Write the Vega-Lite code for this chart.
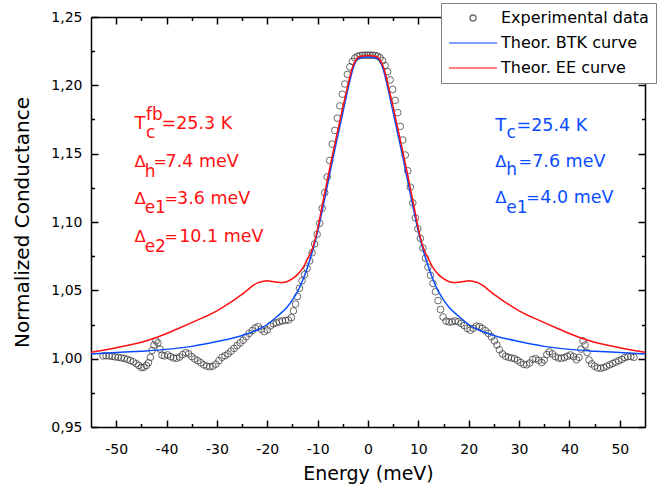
{
  "$schema": "https://vega.github.io/schema/vega-lite/v6.json",
  "width": 554,
  "height": 410,
  "autosize": {"type": "none"},
  "padding": {"left": 91, "top": 17, "right": 20, "bottom": 66},
  "background": "white",
  "config": {
    "view": {"stroke": null},
    "axis": {
      "grid": false,
      "domainColor": "black",
      "domainWidth": 1.5,
      "tickColor": "black",
      "tickWidth": 1.5,
      "labelFont": "DejaVu Sans",
      "labelFontSize": 14,
      "labelColor": "black",
      "titleFont": "DejaVu Sans",
      "titleFontWeight": "normal",
      "titleColor": "black"
    },
    "legend": {
      "strokeColor": "#808080",
      "fillColor": "white",
      "padding": 7,
      "labelFont": "DejaVu Sans",
      "labelFontSize": 16,
      "labelColor": "black",
      "labelOffset": 20,
      "labelLimit": 400,
      "rowPadding": 9,
      "symbolSize": 36,
      "symbolOffset": 17,
      "symbolStrokeWidth": 1.3
    }
  },
  "datasets": {
    "exp": [
      {"series":"Experimental data","E":-52.6,"G":1.0020},{"series":"Experimental data","E":-52.0,"G":1.0021},{"series":"Experimental data","E":-51.4,"G":1.0020},{"series":"Experimental data","E":-50.8,"G":1.0017},{"series":"Experimental data","E":-50.2,"G":1.0013},{"series":"Experimental data","E":-49.6,"G":1.0010},{"series":"Experimental data","E":-49.0,"G":1.0006},{"series":"Experimental data","E":-48.4,"G":1.0002},{"series":"Experimental data","E":-47.8,"G":0.9995},{"series":"Experimental data","E":-47.2,"G":0.9987},{"series":"Experimental data","E":-46.6,"G":0.9977},{"series":"Experimental data","E":-46.0,"G":0.9963},{"series":"Experimental data","E":-45.5,"G":0.9950},{"series":"Experimental data","E":-45.0,"G":0.9935},{"series":"Experimental data","E":-44.5,"G":0.9937},{"series":"Experimental data","E":-44.0,"G":0.9950},{"series":"Experimental data","E":-43.6,"G":0.9970},{"series":"Experimental data","E":-43.2,"G":1.0010},{"series":"Experimental data","E":-42.9,"G":1.0060},{"series":"Experimental data","E":-42.5,"G":1.0100},{"series":"Experimental data","E":-42.1,"G":1.0130},{"series":"Experimental data","E":-41.7,"G":1.0115},{"series":"Experimental data","E":-41.3,"G":1.0070},{"series":"Experimental data","E":-40.9,"G":1.0025},{"series":"Experimental data","E":-40.4,"G":1.0020},{"series":"Experimental data","E":-39.8,"G":1.0028},{"series":"Experimental data","E":-39.2,"G":1.0015},{"series":"Experimental data","E":-38.6,"G":1.0005},{"series":"Experimental data","E":-38.0,"G":1.0003},{"series":"Experimental data","E":-37.4,"G":1.0012},{"series":"Experimental data","E":-36.8,"G":1.0030},{"series":"Experimental data","E":-36.2,"G":1.0044},{"series":"Experimental data","E":-35.6,"G":1.0035},{"series":"Experimental data","E":-35.0,"G":1.0015},{"series":"Experimental data","E":-34.4,"G":0.9998},{"series":"Experimental data","E":-33.8,"G":0.9985},{"series":"Experimental data","E":-33.2,"G":0.9970},{"series":"Experimental data","E":-32.6,"G":0.9955},{"series":"Experimental data","E":-32.0,"G":0.9945},{"series":"Experimental data","E":-31.4,"G":0.9941},{"series":"Experimental data","E":-30.8,"G":0.9945},{"series":"Experimental data","E":-30.2,"G":0.9960},{"series":"Experimental data","E":-29.6,"G":0.9985},{"series":"Experimental data","E":-29.0,"G":1.0010},{"series":"Experimental data","E":-28.4,"G":1.0022},{"series":"Experimental data","E":-27.8,"G":1.0035},{"series":"Experimental data","E":-27.2,"G":1.0055},{"series":"Experimental data","E":-26.6,"G":1.0075},{"series":"Experimental data","E":-26.0,"G":1.0095},{"series":"Experimental data","E":-25.4,"G":1.0115},{"series":"Experimental data","E":-24.8,"G":1.0135},{"series":"Experimental data","E":-24.2,"G":1.0160},{"series":"Experimental data","E":-23.6,"G":1.0185},{"series":"Experimental data","E":-23.0,"G":1.0205},{"series":"Experimental data","E":-22.4,"G":1.0225},{"series":"Experimental data","E":-21.8,"G":1.0234},{"series":"Experimental data","E":-21.2,"G":1.0215},{"series":"Experimental data","E":-20.6,"G":1.0198},{"series":"Experimental data","E":-20.0,"G":1.0210},{"series":"Experimental data","E":-19.4,"G":1.0240},{"series":"Experimental data","E":-18.8,"G":1.0255},{"series":"Experimental data","E":-18.2,"G":1.0262},{"series":"Experimental data","E":-17.6,"G":1.0270},{"series":"Experimental data","E":-17.0,"G":1.0277},{"series":"Experimental data","E":-16.4,"G":1.0280},{"series":"Experimental data","E":-15.8,"G":1.0283},{"series":"Experimental data","E":-15.2,"G":1.0300},{"series":"Experimental data","E":-14.8,"G":1.0350},{"series":"Experimental data","E":-14.4,"G":1.0400},{"series":"Experimental data","E":-14.0,"G":1.0455},{"series":"Experimental data","E":-13.6,"G":1.0515},{"series":"Experimental data","E":-13.1,"G":1.0570},{"series":"Experimental data","E":-12.6,"G":1.0615},{"series":"Experimental data","E":-12.1,"G":1.0660},{"series":"Experimental data","E":-11.6,"G":1.0715},{"series":"Experimental data","E":-11.1,"G":1.0775},{"series":"Experimental data","E":-10.6,"G":1.0840},{"series":"Experimental data","E":-10.1,"G":1.0910},{"series":"Experimental data","E":-9.6,"G":1.0990},{"series":"Experimental data","E":-9.1,"G":1.1100},{"series":"Experimental data","E":-8.6,"G":1.1215},{"series":"Experimental data","E":-8.1,"G":1.1330},{"series":"Experimental data","E":-7.6,"G":1.1450},{"series":"Experimental data","E":-7.1,"G":1.1570},{"series":"Experimental data","E":-6.6,"G":1.1670},{"series":"Experimental data","E":-6.1,"G":1.1760},{"series":"Experimental data","E":-5.6,"G":1.1850},{"series":"Experimental data","E":-5.1,"G":1.1935},{"series":"Experimental data","E":-4.6,"G":1.2010},{"series":"Experimental data","E":-4.1,"G":1.2080},{"series":"Experimental data","E":-3.6,"G":1.2135},{"series":"Experimental data","E":-3.1,"G":1.2175},{"series":"Experimental data","E":-2.6,"G":1.2200},{"series":"Experimental data","E":-2.1,"G":1.2212},{"series":"Experimental data","E":-1.6,"G":1.2218},{"series":"Experimental data","E":-1.1,"G":1.2220},{"series":"Experimental data","E":-0.6,"G":1.2221},{"series":"Experimental data","E":-0.1,"G":1.2221},
      {"series":"Experimental data","E":0.4,"G":1.2221},{"series":"Experimental data","E":0.9,"G":1.2220},{"series":"Experimental data","E":1.4,"G":1.2219},{"series":"Experimental data","E":1.9,"G":1.2214},{"series":"Experimental data","E":2.4,"G":1.2202},{"series":"Experimental data","E":2.9,"G":1.2180},{"series":"Experimental data","E":3.4,"G":1.2145},{"series":"Experimental data","E":3.9,"G":1.2100},{"series":"Experimental data","E":4.4,"G":1.2040},{"series":"Experimental data","E":4.9,"G":1.1970},{"series":"Experimental data","E":5.4,"G":1.1890},{"series":"Experimental data","E":5.9,"G":1.1800},{"series":"Experimental data","E":6.4,"G":1.1700},{"series":"Experimental data","E":6.9,"G":1.1600},{"series":"Experimental data","E":7.4,"G":1.1490},{"series":"Experimental data","E":7.9,"G":1.1375},{"series":"Experimental data","E":8.4,"G":1.1255},{"series":"Experimental data","E":8.9,"G":1.1140},{"series":"Experimental data","E":9.4,"G":1.1030},{"series":"Experimental data","E":9.9,"G":1.0950},{"series":"Experimental data","E":10.4,"G":1.0880},{"series":"Experimental data","E":10.9,"G":1.0810},{"series":"Experimental data","E":11.4,"G":1.0735},{"series":"Experimental data","E":11.9,"G":1.0670},{"series":"Experimental data","E":12.4,"G":1.0610},{"series":"Experimental data","E":12.9,"G":1.0550},{"series":"Experimental data","E":13.4,"G":1.0490},{"series":"Experimental data","E":13.9,"G":1.0425},{"series":"Experimental data","E":14.4,"G":1.0360},{"series":"Experimental data","E":14.9,"G":1.0305},{"series":"Experimental data","E":15.5,"G":1.0275},{"series":"Experimental data","E":16.1,"G":1.0268},{"series":"Experimental data","E":16.7,"G":1.0270},{"series":"Experimental data","E":17.3,"G":1.0276},{"series":"Experimental data","E":17.9,"G":1.0270},{"series":"Experimental data","E":18.5,"G":1.0258},{"series":"Experimental data","E":19.1,"G":1.0242},{"series":"Experimental data","E":19.7,"G":1.0222},{"series":"Experimental data","E":20.3,"G":1.0208},{"series":"Experimental data","E":20.9,"G":1.0222},{"series":"Experimental data","E":21.5,"G":1.0238},{"series":"Experimental data","E":22.1,"G":1.0235},{"series":"Experimental data","E":22.7,"G":1.0222},{"series":"Experimental data","E":23.3,"G":1.0205},{"series":"Experimental data","E":23.9,"G":1.0185},{"series":"Experimental data","E":24.5,"G":1.0160},{"series":"Experimental data","E":25.1,"G":1.0130},{"series":"Experimental data","E":25.6,"G":1.0100},{"series":"Experimental data","E":26.1,"G":1.0065},{"series":"Experimental data","E":26.7,"G":1.0035},{"series":"Experimental data","E":27.3,"G":1.0018},{"series":"Experimental data","E":27.9,"G":1.0010},{"series":"Experimental data","E":28.5,"G":1.0005},{"series":"Experimental data","E":29.1,"G":1.0000},{"series":"Experimental data","E":29.7,"G":0.9988},{"series":"Experimental data","E":30.3,"G":0.9972},{"series":"Experimental data","E":30.9,"G":0.9958},{"series":"Experimental data","E":31.5,"G":0.9955},{"series":"Experimental data","E":32.1,"G":0.9968},{"series":"Experimental data","E":32.7,"G":0.9995},{"series":"Experimental data","E":33.3,"G":1.0000},{"series":"Experimental data","E":33.9,"G":0.9988},{"series":"Experimental data","E":34.5,"G":0.9972},{"series":"Experimental data","E":35.0,"G":0.9990},{"series":"Experimental data","E":35.5,"G":1.0030},{"series":"Experimental data","E":36.0,"G":1.0050},{"series":"Experimental data","E":36.6,"G":1.0035},{"series":"Experimental data","E":37.2,"G":1.0015},{"series":"Experimental data","E":37.8,"G":1.0005},{"series":"Experimental data","E":38.4,"G":1.0003},{"series":"Experimental data","E":39.0,"G":1.0008},{"series":"Experimental data","E":39.6,"G":1.0018},{"series":"Experimental data","E":40.2,"G":1.0027},{"series":"Experimental data","E":40.8,"G":1.0015},{"series":"Experimental data","E":41.4,"G":0.9992},{"series":"Experimental data","E":41.9,"G":1.0010},{"series":"Experimental data","E":42.3,"G":1.0070},{"series":"Experimental data","E":42.7,"G":1.0130},{"series":"Experimental data","E":43.1,"G":1.0100},{"series":"Experimental data","E":43.5,"G":1.0045},{"series":"Experimental data","E":43.9,"G":0.9990},{"series":"Experimental data","E":44.4,"G":0.9962},{"series":"Experimental data","E":45.0,"G":0.9945},{"series":"Experimental data","E":45.6,"G":0.9932},{"series":"Experimental data","E":46.2,"G":0.9930},{"series":"Experimental data","E":46.8,"G":0.9935},{"series":"Experimental data","E":47.4,"G":0.9945},{"series":"Experimental data","E":48.0,"G":0.9955},{"series":"Experimental data","E":48.6,"G":0.9965},{"series":"Experimental data","E":49.2,"G":0.9975},{"series":"Experimental data","E":49.8,"G":0.9985},{"series":"Experimental data","E":50.4,"G":0.9995},{"series":"Experimental data","E":51.0,"G":1.0008},{"series":"Experimental data","E":51.6,"G":1.0015},{"series":"Experimental data","E":52.2,"G":1.0015},{"series":"Experimental data","E":52.8,"G":1.0010}
    ],
    "btk": [
      {"series":"Theor. BTK curve","E":-55,"G":1.0035},{"series":"Theor. BTK curve","E":-50,"G":1.0045},{"series":"Theor. BTK curve","E":-45,"G":1.0055},{"series":"Theor. BTK curve","E":-40,"G":1.0068},{"series":"Theor. BTK curve","E":-35,"G":1.009},{"series":"Theor. BTK curve","E":-30,"G":1.0125},{"series":"Theor. BTK curve","E":-25,"G":1.017},{"series":"Theor. BTK curve","E":-22,"G":1.021},{"series":"Theor. BTK curve","E":-20,"G":1.025},{"series":"Theor. BTK curve","E":-18,"G":1.031},{"series":"Theor. BTK curve","E":-16,"G":1.038},{"series":"Theor. BTK curve","E":-15,"G":1.043},{"series":"Theor. BTK curve","E":-14,"G":1.049},{"series":"Theor. BTK curve","E":-13,"G":1.057},{"series":"Theor. BTK curve","E":-12,"G":1.067},{"series":"Theor. BTK curve","E":-11,"G":1.079},{"series":"Theor. BTK curve","E":-10,"G":1.093},{"series":"Theor. BTK curve","E":-9,"G":1.110},{"series":"Theor. BTK curve","E":-8,"G":1.128},{"series":"Theor. BTK curve","E":-7,"G":1.146},{"series":"Theor. BTK curve","E":-6,"G":1.163},{"series":"Theor. BTK curve","E":-5,"G":1.180},{"series":"Theor. BTK curve","E":-4,"G":1.197},{"series":"Theor. BTK curve","E":-3.5,"G":1.205},{"series":"Theor. BTK curve","E":-3,"G":1.212},{"series":"Theor. BTK curve","E":-2.5,"G":1.217},{"series":"Theor. BTK curve","E":-2,"G":1.2195},{"series":"Theor. BTK curve","E":-1,"G":1.2205},{"series":"Theor. BTK curve","E":0,"G":1.2207},{"series":"Theor. BTK curve","E":1,"G":1.2205},{"series":"Theor. BTK curve","E":2,"G":1.2195},{"series":"Theor. BTK curve","E":2.5,"G":1.217},{"series":"Theor. BTK curve","E":3,"G":1.212},{"series":"Theor. BTK curve","E":3.5,"G":1.205},{"series":"Theor. BTK curve","E":4,"G":1.197},{"series":"Theor. BTK curve","E":5,"G":1.180},{"series":"Theor. BTK curve","E":6,"G":1.163},{"series":"Theor. BTK curve","E":7,"G":1.146},{"series":"Theor. BTK curve","E":8,"G":1.128},{"series":"Theor. BTK curve","E":9,"G":1.110},{"series":"Theor. BTK curve","E":10,"G":1.093},{"series":"Theor. BTK curve","E":11,"G":1.079},{"series":"Theor. BTK curve","E":12,"G":1.067},{"series":"Theor. BTK curve","E":13,"G":1.057},{"series":"Theor. BTK curve","E":14,"G":1.049},{"series":"Theor. BTK curve","E":15,"G":1.043},{"series":"Theor. BTK curve","E":16,"G":1.038},{"series":"Theor. BTK curve","E":18,"G":1.031},{"series":"Theor. BTK curve","E":20,"G":1.025},{"series":"Theor. BTK curve","E":22,"G":1.021},{"series":"Theor. BTK curve","E":25,"G":1.017},{"series":"Theor. BTK curve","E":30,"G":1.0125},{"series":"Theor. BTK curve","E":35,"G":1.009},{"series":"Theor. BTK curve","E":40,"G":1.0068},{"series":"Theor. BTK curve","E":45,"G":1.0055},{"series":"Theor. BTK curve","E":50,"G":1.0045},{"series":"Theor. BTK curve","E":55,"G":1.0035}
    ],
    "ee": [
      {"series":"Theor. EE curve","E":-55,"G":1.0047},{"series":"Theor. EE curve","E":-50,"G":1.008},{"series":"Theor. EE curve","E":-45,"G":1.012},{"series":"Theor. EE curve","E":-42,"G":1.0155},{"series":"Theor. EE curve","E":-38,"G":1.0215},{"series":"Theor. EE curve","E":-34,"G":1.028},{"series":"Theor. EE curve","E":-30,"G":1.035},{"series":"Theor. EE curve","E":-28,"G":1.0395},{"series":"Theor. EE curve","E":-26,"G":1.0445},{"series":"Theor. EE curve","E":-24,"G":1.050},{"series":"Theor. EE curve","E":-23,"G":1.053},{"series":"Theor. EE curve","E":-22,"G":1.0553},{"series":"Theor. EE curve","E":-21,"G":1.0565},{"series":"Theor. EE curve","E":-20,"G":1.057},{"series":"Theor. EE curve","E":-19,"G":1.0565},{"series":"Theor. EE curve","E":-18,"G":1.056},{"series":"Theor. EE curve","E":-17,"G":1.0557},{"series":"Theor. EE curve","E":-16,"G":1.0565},{"series":"Theor. EE curve","E":-15,"G":1.0585},{"series":"Theor. EE curve","E":-14,"G":1.0615},{"series":"Theor. EE curve","E":-13,"G":1.066},{"series":"Theor. EE curve","E":-12,"G":1.073},{"series":"Theor. EE curve","E":-11,"G":1.081},{"series":"Theor. EE curve","E":-10,"G":1.095},{"series":"Theor. EE curve","E":-9,"G":1.114},{"series":"Theor. EE curve","E":-8,"G":1.132},{"series":"Theor. EE curve","E":-7,"G":1.150},{"series":"Theor. EE curve","E":-6,"G":1.167},{"series":"Theor. EE curve","E":-5,"G":1.184},{"series":"Theor. EE curve","E":-4,"G":1.200},{"series":"Theor. EE curve","E":-3.5,"G":1.208},{"series":"Theor. EE curve","E":-3,"G":1.214},{"series":"Theor. EE curve","E":-2.5,"G":1.218},{"series":"Theor. EE curve","E":-2,"G":1.2205},{"series":"Theor. EE curve","E":-1,"G":1.2215},{"series":"Theor. EE curve","E":0,"G":1.2218},{"series":"Theor. EE curve","E":1,"G":1.2215},{"series":"Theor. EE curve","E":2,"G":1.2205},{"series":"Theor. EE curve","E":2.5,"G":1.218},{"series":"Theor. EE curve","E":3,"G":1.214},{"series":"Theor. EE curve","E":3.5,"G":1.208},{"series":"Theor. EE curve","E":4,"G":1.200},{"series":"Theor. EE curve","E":5,"G":1.184},{"series":"Theor. EE curve","E":6,"G":1.167},{"series":"Theor. EE curve","E":7,"G":1.150},{"series":"Theor. EE curve","E":8,"G":1.132},{"series":"Theor. EE curve","E":9,"G":1.114},{"series":"Theor. EE curve","E":10,"G":1.095},{"series":"Theor. EE curve","E":11,"G":1.081},{"series":"Theor. EE curve","E":12,"G":1.073},{"series":"Theor. EE curve","E":13,"G":1.066},{"series":"Theor. EE curve","E":14,"G":1.0615},{"series":"Theor. EE curve","E":15,"G":1.0585},{"series":"Theor. EE curve","E":16,"G":1.0565},{"series":"Theor. EE curve","E":17,"G":1.0557},{"series":"Theor. EE curve","E":18,"G":1.056},{"series":"Theor. EE curve","E":19,"G":1.0565},{"series":"Theor. EE curve","E":20,"G":1.057},{"series":"Theor. EE curve","E":21,"G":1.0565},{"series":"Theor. EE curve","E":22,"G":1.0553},{"series":"Theor. EE curve","E":23,"G":1.053},{"series":"Theor. EE curve","E":24,"G":1.050},{"series":"Theor. EE curve","E":26,"G":1.0445},{"series":"Theor. EE curve","E":28,"G":1.0395},{"series":"Theor. EE curve","E":30,"G":1.035},{"series":"Theor. EE curve","E":34,"G":1.028},{"series":"Theor. EE curve","E":38,"G":1.0215},{"series":"Theor. EE curve","E":42,"G":1.0155},{"series":"Theor. EE curve","E":45,"G":1.012},{"series":"Theor. EE curve","E":50,"G":1.008},{"series":"Theor. EE curve","E":55,"G":1.0047}
    ],
    "notes": [
      {"g":"EE","p":"T","x":-46.36,"y":1.1678,"t":"T"},
      {"g":"EE","p":"sub","x":-44.1,"y":1.1615,"t":"c"},
      {"g":"EE","p":"sub","x":-44.1,"y":1.1746,"t":"fb"},
      {"g":"EE","p":"main","x":-41.0,"y":1.1678,"t":"=25.3 K"},
      {"g":"EE","p":"delta","x":-46.36,"y":1.1405,"t":"Δ"},
      {"g":"EE","p":"sub","x":-44.35,"y":1.1327,"t":"h"},
      {"g":"EE","p":"eq","x":-42.6,"y":1.1405,"t":"="},
      {"g":"EE","p":"main","x":-40.19,"y":1.1405,"t":"7.4 meV"},
      {"g":"EE","p":"delta","x":-46.36,"y":1.1132,"t":"Δ"},
      {"g":"EE","p":"sub","x":-44.35,"y":1.1064,"t":"e1"},
      {"g":"EE","p":"eq","x":-40.4,"y":1.1132,"t":"="},
      {"g":"EE","p":"main","x":-37.9,"y":1.1132,"t":"3.6 meV"},
      {"g":"EE","p":"delta","x":-46.36,"y":1.0856,"t":"Δ"},
      {"g":"EE","p":"sub","x":-44.35,"y":1.0783,"t":"e2"},
      {"g":"EE","p":"eq","x":-40.4,"y":1.0856,"t":"="},
      {"g":"EE","p":"main","x":-37.5,"y":1.0856,"t":"10.1 meV"},
      {"g":"BTK","p":"T","x":25.27,"y":1.1668,"t":"T"},
      {"g":"BTK","p":"sub","x":27.5,"y":1.1612,"t":"c"},
      {"g":"BTK","p":"main","x":29.5,"y":1.1668,"t":"=25.4 K"},
      {"g":"BTK","p":"delta","x":25.27,"y":1.1405,"t":"Δ"},
      {"g":"BTK","p":"sub","x":27.46,"y":1.1344,"t":"h"},
      {"g":"BTK","p":"eq","x":29.9,"y":1.1405,"t":"="},
      {"g":"BTK","p":"main","x":32.6,"y":1.1405,"t":"7.6 meV"},
      {"g":"BTK","p":"delta","x":25.27,"y":1.1137,"t":"Δ"},
      {"g":"BTK","p":"sub","x":27.46,"y":1.1064,"t":"e1"},
      {"g":"BTK","p":"eq","x":31.4,"y":1.1137,"t":"="},
      {"g":"BTK","p":"main","x":34.2,"y":1.1137,"t":"4.0 meV"}
    ]
  },
  "layer": [
    {
      "data": {"name": "exp"},
      "mark": {"type": "point", "filled": false, "size": 44, "strokeWidth": 1},
      "encoding": {
        "x": {
          "field": "E", "type": "quantitative",
          "scale": {"domain": [-55, 55], "nice": false, "zero": false},
          "axis": {
            "orient": "bottom",
            "values": [-50, -40, -30, -20, -10, 0, 10, 20, 30, 40, 50],
            "labelExpr": "'' + datum.value",
            "tickSize": -7,
            "labelPadding": 22,
            "title": "Energy (meV)",
            "titleFontSize": 19,
            "titlePadding": 8
          }
        },
        "y": {
          "field": "G", "type": "quantitative",
          "scale": {"domain": [0.95, 1.25], "nice": false, "zero": false},
          "axis": {
            "orient": "left",
            "values": [0.95, 1, 1.05, 1.1, 1.15, 1.2, 1.25],
            "labelExpr": "replace(format(datum.value, '.2f'), '.', ',')",
            "tickSize": -7,
            "labelPadding": 16,
            "title": "Normalized Conductance",
            "titleFontSize": 20,
            "titlePadding": 18
          }
        },
        "color": {
          "field": "series", "type": "nominal",
          "scale": {
            "domain": ["Experimental data", "Theor. BTK curve", "Theor. EE curve"],
            "range": ["#2a2a2a", "#0a4cff", "#ff1010"]
          },
          "legend": {"title": null, "orient": "none", "legendX": 350, "legendY": -14}
        },
        "shape": {
          "field": "series", "type": "nominal",
          "scale": {
            "domain": ["Experimental data", "Theor. BTK curve", "Theor. EE curve"],
            "range": ["circle", "M-8,0H8", "M-8,0H8"]
          },
          "legend": {"title": null, "orient": "none", "legendX": 350, "legendY": -14}
        }
      }
    },
    {
      "data": {"name": "btk"},
      "mark": {"type": "line", "strokeWidth": 1.5, "interpolate": "monotone"},
      "encoding": {
        "x": {
          "field": "E", "type": "quantitative",
          "scale": {"domain": [-55, 55], "nice": false, "zero": false},
          "axis": {"orient": "bottom", "values": [-45, -35, -25, -15, -5, 5, 15, 25, 35, 45], "tickSize": -3.5, "labels": false, "domain": false, "title": null}
        },
        "y": {
          "field": "G", "type": "quantitative",
          "scale": {"domain": [0.95, 1.25], "nice": false, "zero": false},
          "axis": {"orient": "left", "values": [0.975, 1.025, 1.075, 1.125, 1.175, 1.225], "tickSize": -3.5, "labels": false, "domain": false, "title": null}
        },
        "color": {"field": "series", "type": "nominal"}
      }
    },
    {
      "data": {"name": "ee"},
      "mark": {"type": "line", "strokeWidth": 1.5, "interpolate": "monotone"},
      "encoding": {
        "x": {
          "field": "E", "type": "quantitative",
          "scale": {"domain": [-55, 55], "nice": false, "zero": false},
          "axis": {"orient": "top", "values": [-50, -40, -30, -20, -10, 0, 10, 20, 30, 40, 50], "tickSize": -7, "labels": false, "title": null}
        },
        "y": {
          "field": "G", "type": "quantitative",
          "scale": {"domain": [0.95, 1.25], "nice": false, "zero": false},
          "axis": {"orient": "right", "values": [0.95, 1, 1.05, 1.1, 1.15, 1.2, 1.25], "tickSize": -7, "labels": false, "title": null}
        },
        "color": {"field": "series", "type": "nominal"}
      }
    },
    {
      "data": {"name": "notes"},
      "mark": {"type": "text", "align": "left", "baseline": "alphabetic", "font": "DejaVu Sans"},
      "encoding": {
        "x": {
          "field": "x", "type": "quantitative",
          "scale": {"domain": [-55, 55], "nice": false, "zero": false},
          "axis": {"orient": "top", "values": [-45, -35, -25, -15, -5, 5, 15, 25, 35, 45], "tickSize": -3.5, "labels": false, "domain": false, "title": null}
        },
        "y": {
          "field": "y", "type": "quantitative",
          "scale": {"domain": [0.95, 1.25], "nice": false, "zero": false},
          "axis": {"orient": "right", "values": [0.975, 1.025, 1.075, 1.125, 1.175, 1.225], "tickSize": -3.5, "labels": false, "domain": false, "title": null}
        },
        "text": {"field": "t"},
        "fill": {
          "field": "g", "type": "nominal",
          "scale": {"domain": ["EE", "BTK"], "range": ["#ff1010", "#0a4cff"]},
          "legend": null
        },
        "size": {
          "field": "p", "type": "ordinal",
          "scale": {"domain": ["T", "main", "sub", "delta", "eq"], "range": [18, 16, 12, 14, 12]},
          "legend": null
        }
      }
    }
  ],
  "resolve": {"axis": {"x": "independent", "y": "independent"}}
}
